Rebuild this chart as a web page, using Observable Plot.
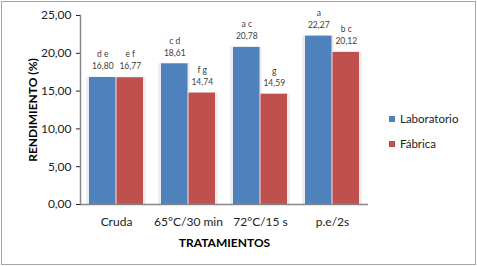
<!DOCTYPE html>
<html>
<head>
<meta charset="utf-8">
<script src="https://cdn.jsdelivr.net/npm/d3@7"></script>
<script src="https://cdn.jsdelivr.net/npm/@observablehq/plot@0.6"></script>
<style>
  body { margin: 0; background: #fff; }
  #wrap { position: relative; width: 477px; height: 266px; overflow: hidden; font-family: Lato, "Open Sans", sans-serif; }
  #border { position: absolute; left: 1px; top: 1px; width: 473px; height: 262px; border: 1px solid #a6a6a6; pointer-events: none; }
  #chart svg { position: absolute; left: 0; top: 0; }
  g[aria-label="y-axis label"] text, g[aria-label="x-axis label"] text { font-weight: bold; fill: #000; }
  #legend { position: absolute; left: 389px; top: 106px; font-size: 11.5px; color: #222; }
  #legend div { display: flex; align-items: center; height: 25px; }
  #legend span.sw { display: inline-block; width: 6px; height: 6px; margin-right: 5px; }
</style>
</head>
<body>
<div id="wrap">
  <div id="chart"></div>
  <div id="legend"></div>
  <div id="border"></div>
</div>
<script>
const categories = ["Cruda", "65°C/30 min", "72°C/15 s", "p.e/2s"];
const series = ["Laboratorio", "Fábrica"];
const laboratorio = [16.80, 18.61, 20.78, 22.27];
const fabrica = [16.77, 14.74, 14.59, 20.12];
const letrasLab = ["d e", "c d", "a c", "a"];
const letrasFab = ["e f", "f g", "g", "b c"];
const yTicks = [0, 5, 10, 15, 20, 25];
const colors = ["#4F81BD", "#C0504D"];

const lab = categories.map((c, i) => ({cat: c, v: laboratorio[i], l: letrasLab[i]}));
const fab = categories.map((c, i) => ({cat: c, v: fabrica[i], l: letrasFab[i]}));
const fmt = d => d.toFixed(2).replace(".", ",");

const half = 27.5, off = 13.75;
const labelStyle = {fontSize: 8.5, fill: "#404040"};

const chart = Plot.plot({
  width: 477,
  height: 266,
  marginLeft: 80,
  marginRight: 109,
  marginTop: 15,
  marginBottom: 62,
  style: {fontFamily: "Lato, 'Open Sans', sans-serif", fontSize: "12px", color: "#222", background: "transparent"},
  x: {type: "band", domain: categories, paddingInner: 0.25, paddingOuter: 0.125, tickSize: 0, tickPadding: 13,
      label: "TRATAMIENTOS", labelAnchor: "center", labelOffset: 42},
  y: {domain: [0, 25], ticks: yTicks, tickFormat: fmt, tickSize: 4, tickPadding: 5,
      label: "RENDIMIENTO (%)", labelAnchor: "center", labelOffset: 52, labelArrow: "none"},
  marks: [
    Plot.barY(lab, {x: "cat", y: "v", insetRight: half - 2, insetLeft: -2.5, fill: "#ebebeb", stroke: "#f2f2f2", strokeWidth: 1}),
    Plot.barY(fab, {x: "cat", y: "v", insetLeft: half - 2, insetRight: -2.5, fill: "#ebebeb", stroke: "#f2f2f2", strokeWidth: 1}),
    Plot.barY(lab, {x: "cat", y: "v", insetRight: half, fill: colors[0]}),
    Plot.barY(fab, {x: "cat", y: "v", insetLeft: half, fill: colors[1]}),
    Plot.text(lab, {x: "cat", y: "v", text: d => fmt(d.v), dx: -off, dy: -11, ...labelStyle}),
    Plot.text(fab, {x: "cat", y: "v", text: d => fmt(d.v), dx: off, dy: -11, ...labelStyle}),
    Plot.text(lab, {x: "cat", y: "v", text: "l", dx: -off, dy: -23, ...labelStyle}),
    Plot.text(fab, {x: "cat", y: "v", text: "l", dx: off, dy: -23, ...labelStyle}),
    Plot.ruleY([0], {stroke: "#868686", strokeWidth: 1.5}),
    Plot.frame({anchor: "left", stroke: "#868686", strokeWidth: 1.5})
  ]
});
document.getElementById("chart").appendChild(chart);

const legend = document.getElementById("legend");
series.forEach((s, i) => {
  const row = document.createElement("div");
  row.innerHTML = `<span class="sw" style="background:${colors[i]}"></span><span>${s}</span>`;
  legend.appendChild(row);
});
</script>
</body>
</html>
